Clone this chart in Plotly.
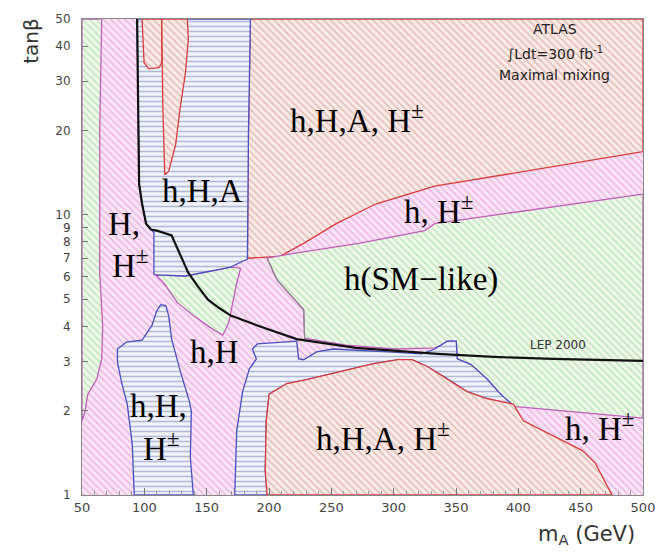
import numpy as np
import plotly.graph_objects as go

# ---- region boundaries: (mA [GeV], tan beta) ----
frame_mA = [50, 500, 500, 50]
frame_tb = [1, 1, 50, 50]

green_left_mA = [50, 65.8, 64.2, 64.2, 66.6, 65.8, 61.9, 54.7, 52.4, 50.8, 50]
green_left_tb = [50, 50, 20, 6.2, 4.0, 3.06, 2.60, 2.29, 1.99, 1.87, 1.84]

red_top_mA = [185.1, 500, 500, 332.9, 325.0, 285.5, 253.9, 227.8, 208.8, 182.7, 183.5]
red_top_tb = [50, 50, 16.8, 12.65, 12.35, 10.93, 9.30, 7.91, 7.11, 7.0, 19.3]

green_right_mA = [198.5, 219.9, 272.0, 325.0, 332.9, 500, 500, 396.1, 385.8, 374.7, 362.1,
                  351.0, 350.2, 343.1, 338.4, 332.9, 301.3, 261.8, 228.6, 227.8, 206.4]
green_right_tb = [7.0, 7.29, 7.91, 8.78, 9.30, 11.86, 1.88, 2.07, 2.29, 2.60, 2.92,
                  3.06, 3.54, 3.54, 3.43, 3.35, 3.32, 3.43, 3.63, 4.59, 5.86]

gray_edge_mA = [198.5, 206.4, 227.8, 228.6]
gray_edge_tb = [7.0, 5.86, 4.59, 3.63]

green_blob_mA = [109.3, 133.0, 153.5, 169.3, 177.2, 174.1, 170.9, 167.7, 163.0, 155.1, 139.3, 126.6, 115.6, 111.6]
green_blob_tb = [6.10, 6.05, 6.30, 6.51, 6.45, 5.71, 4.86, 4.13, 3.72, 3.90, 4.37, 4.86, 5.71, 5.95]

blue_top_mA = [94.2, 95.0, 95.8, 98.2, 101.4, 105.3, 107.7, 107.7, 109.3, 133.0, 153.5, 169.3, 178.8, 182.7, 183.5, 185.1]
blue_top_tb = [50, 24.6, 12.9, 10.93, 9.30, 8.86, 8.65, 6.15, 6.10, 6.05, 6.30, 6.51, 6.83, 6.94, 19.3, 50]

red_isl_l_mA = [98.2, 99.0, 99.8, 103.7, 111.6, 114.0, 114.0]
red_isl_l_tb = [50, 42.4, 34.9, 33.2, 33.5, 34.9, 50]
red_isl_r_mA = [114.0, 114.8, 116.4, 119.5, 125.1, 129.0, 133.0, 135.3, 134.5]
red_isl_r_tb = [50, 24.6, 13.9, 14.3, 17.8, 24.6, 32.1, 42.4, 50]

blue_low_mA = [172.5, 174.1, 178.8, 184.3, 189.9, 186.7, 190.6, 222.2, 223.8, 227.8, 238.1, 251.5,
               295.7, 322.6, 332.9, 338.4, 343.1, 350.2, 351.0, 362.1, 374.7, 385.8, 396.1,
               374.7, 358.9, 343.1, 327.3, 314.7, 303.6, 283.1, 256.2, 230.2, 214.3, 200.1,
               197.8, 197.0, 198.5]
blue_low_tb = [1.0, 1.69, 2.34, 2.82, 3.06, 3.32, 3.46, 3.54, 3.06, 3.04, 3.24, 3.32,
               3.24, 3.19, 3.32, 3.43, 3.54, 3.54, 3.06, 2.92, 2.60, 2.29, 2.09,
               2.21, 2.34, 2.60, 2.87, 3.04, 3.04, 2.94, 2.75, 2.58, 2.50, 2.29,
               1.84, 1.22, 1.0]

red_low_mA = [198.5, 197.0, 197.8, 200.1, 214.3, 230.2, 256.2, 283.1, 303.6, 314.7, 327.3, 343.1,
              358.9, 374.7, 396.1, 404.0, 425.3, 451.4, 461.7, 475.1]
red_low_tb = [1.0, 1.22, 1.84, 2.29, 2.50, 2.58, 2.75, 2.94, 3.04, 3.04, 2.87, 2.60,
              2.34, 2.21, 2.11, 1.84, 1.65, 1.44, 1.30, 1.0]

blue_ll_mA = [91.9, 90.3, 86.3, 81.6, 78.4, 78.4, 85.6, 98.2, 106.1, 110.1, 113.2, 117.2, 119.5,
              121.9, 129.0, 136.1, 137.7, 136.9, 139.3]
blue_ll_tb = [1.0, 1.52, 2.11, 2.54, 2.99, 3.32, 3.51, 3.57, 4.03, 4.55, 4.78, 4.74, 4.37,
              3.60, 2.75, 2.16, 1.99, 1.36, 1.0]

lep_mA = [94.2, 95.0, 95.8, 98.2, 101.4, 105.3, 110.1, 121.9, 128.2, 135.3, 143.2, 151.1, 160.6,
          169.3, 190.6, 222.2, 269.7, 335.2, 380.3, 427.7, 500]
lep_tb = [50, 24.6, 12.9, 10.93, 9.30, 8.86, 8.78, 8.44, 7.29, 6.20, 5.53, 4.98, 4.63,
          4.37, 4.03, 3.60, 3.35, 3.19, 3.11, 3.06, 3.01]

# region labels
label_text = ["h,H,A, H<sup>±</sup>", "h,H,A", "H,", "H<sup>±</sup>", "h, H<sup>±</sup>",
              "h(SM\u2212like)", "h,H", "h,H,", "H<sup>±</sup>", "h,H,A, H<sup>±</sup>", "h, H<sup>±</sup>"]
label_mA = [270.4, 146.4, 84.0, 88.7, 336.0, 321.8, 155.9, 111.6, 114.0, 291.8, 465.6]
label_tb = [22.1, 12.15, 9.30, 6.72, 10.5, 5.86, 3.24, 2.07, 1.50, 1.63, 1.76]

info_lines = ["ATLAS", "\u222bLdt=300 fb<sup>-1</sup>", "Maximal mixing"]

x_ticks = [50, 100, 150, 200, 250, 300, 350, 400, 450, 500]
y_ticks = [1, 2, 3, 4, 5, 6, 7, 8, 9, 10, 20, 30, 40, 50]

# ---- styles ----
MAG = dict(fg="#d98ad0", bg="#fbe4f6", line="#c850b8")
GRN = dict(fg="#93d08c", bg="#eef9ea", line="#c060b8")
RED = dict(fg="#c98c86", bg="#fbebe7", line="#d83c3c")
BLU = dict(fg="#6f7fb0", bg="#f1f2fa", line="#4a4fc0")


def region(xs, ys, sty, shape="\\", lw=1.3, size=5, solidity=0.3):
    return go.Scatter(
        x=list(xs) + [xs[0]], y=list(ys) + [ys[0]], mode="lines", fill="toself",
        fillcolor=sty["bg"],
        fillpattern=dict(shape=shape, fgcolor=sty["fg"], bgcolor=sty["bg"], size=size, solidity=solidity),
        line=dict(color=sty["line"], width=lw), hoverinfo="skip", showlegend=False)


fig = go.Figure()
fig.add_trace(region(frame_mA, frame_tb, MAG, lw=0))
fig.add_trace(region(green_left_mA, green_left_tb, GRN))
fig.add_trace(region(red_top_mA, red_top_tb, RED))
fig.add_trace(region(green_right_mA, green_right_tb, GRN))
fig.add_trace(go.Scatter(x=gray_edge_mA, y=gray_edge_tb, mode="lines",
                         line=dict(color="#8a8a8a", width=1.2), hoverinfo="skip", showlegend=False))
fig.add_trace(region(green_blob_mA, green_blob_tb, GRN))
fig.add_trace(region(blue_top_mA, blue_top_tb, BLU, shape="-"))
fig.add_trace(region(red_isl_l_mA, red_isl_l_tb, RED))
fig.add_trace(region(red_isl_r_mA, red_isl_r_tb, RED))
fig.add_trace(region(blue_low_mA, blue_low_tb, BLU, shape="-"))
fig.add_trace(region(red_low_mA, red_low_tb, RED))
fig.add_trace(region(blue_ll_mA, blue_ll_tb, BLU, shape="-"))
fig.add_trace(go.Scatter(x=lep_mA, y=lep_tb, mode="lines", line=dict(color="#111111", width=2.2),
                         hoverinfo="skip", showlegend=False))

for t, xm, yt in zip(label_text, label_mA, label_tb):
    fig.add_annotation(x=xm, y=np.log10(yt), xref="x", yref="y", text=t, showarrow=False,
                       xanchor="center", yanchor="middle",
                       font=dict(family="Liberation Serif", size=33, color="#000000"))

fig.add_annotation(x=431.6, y=np.log10(3.43), xref="x", yref="y", text="LEP 2000", showarrow=False,
                   xanchor="center", yanchor="middle",
                   font=dict(family="DejaVu Sans", size=12, color="#333333"))

for i, t in enumerate(info_lines):
    fig.add_annotation(x=0.843, y=(495 - [22, 47, 69][i]) / 483, xref="paper", yref="paper",
                       xanchor="center", yanchor="middle", text=t, showarrow=False,
                       font=dict(family="DejaVu Sans", size=14, color="#222222"))

fig.add_annotation(x=-0.091, y=0.954, xref="paper", yref="paper", text="tan\u03b2", textangle=-90,
                   xanchor="center", yanchor="middle",
                   showarrow=False, font=dict(family="DejaVu Sans", size=20, color="#333333"))
fig.add_annotation(x=0.899, y=-0.083, xref="paper", yref="paper", text="m<sub>A</sub> (GeV)",
                   xanchor="center", yanchor="middle",
                   showarrow=False, font=dict(family="DejaVu Sans", size=21, color="#333333"))

fig.update_layout(
    width=667, height=553, margin=dict(l=82, r=15, t=12, b=58),
    paper_bgcolor="white", plot_bgcolor="white",
    xaxis=dict(range=[50, 500], tickvals=x_ticks, ticks="inside", ticklen=7, tickcolor="#777",
               showgrid=False, zeroline=False, showline=True, linecolor="#888", mirror=True,
               tickfont=dict(family="DejaVu Sans", size=13, color="#444444"),
               minor=dict(dtick=10, ticks="inside", ticklen=4, tickcolor="#999")),
    yaxis=dict(type="log", range=[0, np.log10(50)], tickvals=y_ticks, ticktext=[str(v) for v in y_ticks],
               ticks="inside", ticklen=6, tickcolor="#777", ticklabelstandoff=8,
               showgrid=False, zeroline=False, showline=True, linecolor="#888", mirror=True,
               tickfont=dict(family="DejaVu Sans", size=12, color="#444444")),
)

fig.write_html("out.html")
